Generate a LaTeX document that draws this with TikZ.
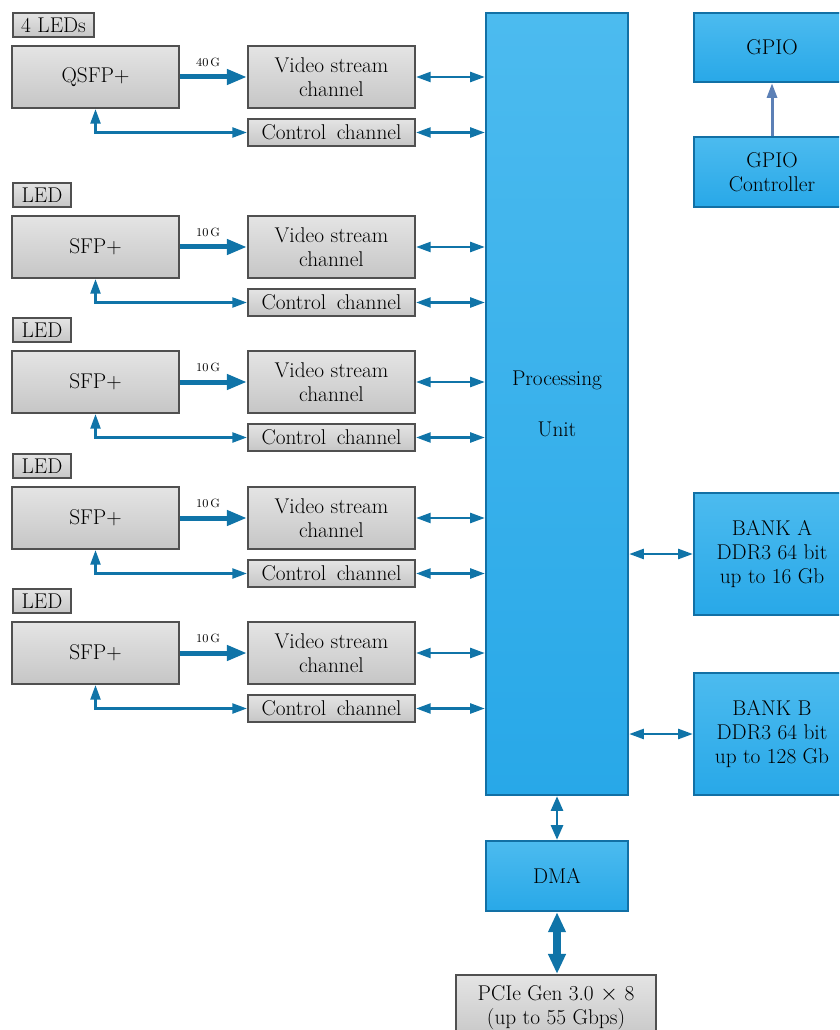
\documentclass[tikz,border=0pt]{standalone}
\usetikzlibrary{arrows.meta}
\definecolor{linkblue}{RGB}{16,116,168}
\definecolor{gpioblue}{RGB}{92,128,182}
\definecolor{blueedge}{RGB}{18,112,165}
\definecolor{bluetop}{RGB}{76,187,239}
\definecolor{bluebot}{RGB}{40,168,232}
\definecolor{grayedge}{RGB}{80,80,80}
\definecolor{graytop}{RGB}{228,228,228}
\definecolor{graybot}{RGB}{198,198,198}
\tikzset{
  graybox/.style={draw=grayedge, line width=1.6pt, top color=graytop, bottom color=graybot,
    inner sep=0pt, align=center, text=black, font=\fontsize{16}{18}\selectfont},
  bluebox/.style={draw=blueedge, line width=1.8pt, top color=bluetop, bottom color=bluebot,
    inner sep=0pt, align=center, text=black, font=\fontsize{16}{18}\selectfont},
  link/.style={linkblue, line width=1.8pt, {Triangle[length=11pt,width=7.5pt]}-{Triangle[length=11pt,width=7.5pt]}},
  fat/.style={linkblue, line width=3.75pt, -{Triangle[length=15pt,width=11pt]}},
  rate/.style={text=black, font=\fontsize{9}{10}\selectfont, inner sep=0pt}
}
\begin{document}
\begin{tikzpicture}[x=0.75pt,y=-0.75pt]
	\clip (0,0) rectangle (839,1030);
	% processing unit and right column
	\node[bluebox, minimum width=106.5pt, minimum height=586.5pt] (pu) at (557,404) {Processing\\[20pt]Unit};
	\node[bluebox, minimum width=117pt, minimum height=51.75pt] (gpio) at (772,47.5) {GPIO};
	\node[bluebox, minimum width=117pt, minimum height=52.5pt] (gpioc) at (772,172) {GPIO\\Controller};
	\node[bluebox, minimum width=117pt, minimum height=91.5pt] (banka) at (772,554) {BANK A\\DDR3 64 bit\\up to 16 Gb};
	\node[bluebox, minimum width=117pt, minimum height=91.5pt] (bankb) at (772,734) {BANK B\\DDR3 64 bit\\up to 128 Gb};
	\node[bluebox, minimum width=106.5pt, minimum height=52.5pt] (dma) at (557,876) {DMA};
	\node[graybox, minimum width=150pt, minimum height=49.5pt] (pcie) at (556,1008) {PCIe Gen 3.0 $\times$ 8\\(up to 55 Gbps)};
	\draw[gpioblue, line width=2.25pt, -{Triangle[length=11pt,width=7.5pt]}] (gpioc) -- (gpio);
	\draw[link] (banka.west -| pu.east) -- (banka.west);
	\draw[link] (bankb.west -| pu.east) -- (bankb.west);
	\draw[linkblue, line width=2pt, {Triangle[length=11pt,width=9pt]}-{Triangle[length=11pt,width=9pt]}] (pu) -- (dma);
	\draw[linkblue, line width=6pt, {Triangle[length=15pt,width=12.5pt]}-{Triangle[length=15pt,width=12.5pt]}] (dma.south) -- (dma.south |- pcie.north);
	% input ports
	\foreach \b/\n/\port/\led/\lw/\speed in {46/1/QSFP+/4 LEDs/60.75pt/40, 216/2/SFP+/LED/43.5pt/10,
	  351/3/SFP+/LED/43.5pt/10, 487/4/SFP+/LED/43.5pt/10, 622/5/SFP+/LED/43.5pt/10}{
		\node[graybox, anchor=west, minimum width=\lw, minimum height=18pt] (led\n) at (12,\b-21) {\led};
		\node[graybox, minimum width=125.25pt, minimum height=46.5pt] (port\n) at (95.5,\b+31) {\port};
		\node[graybox, minimum width=125.25pt, minimum height=46.5pt] (vid\n) at (331.5,\b+31) {Video stream\\channel};
		\node[graybox, minimum width=125.25pt, minimum height=20.25pt] (ctl\n) at (331.5,\b+86.5) {Control\enspace channel};
		\draw[fat] (port\n) -- (vid\n) node[rate, pos=0.42, above=6pt] {\speed\,G};
		\draw[link] (port\n.south) |- (ctl\n.west);
		\draw[link] (vid\n.east) -- (vid\n.east -| pu.west);
		\draw[link] (ctl\n.east) -- (ctl\n.east -| pu.west);
	}
\end{tikzpicture}
\end{document}
